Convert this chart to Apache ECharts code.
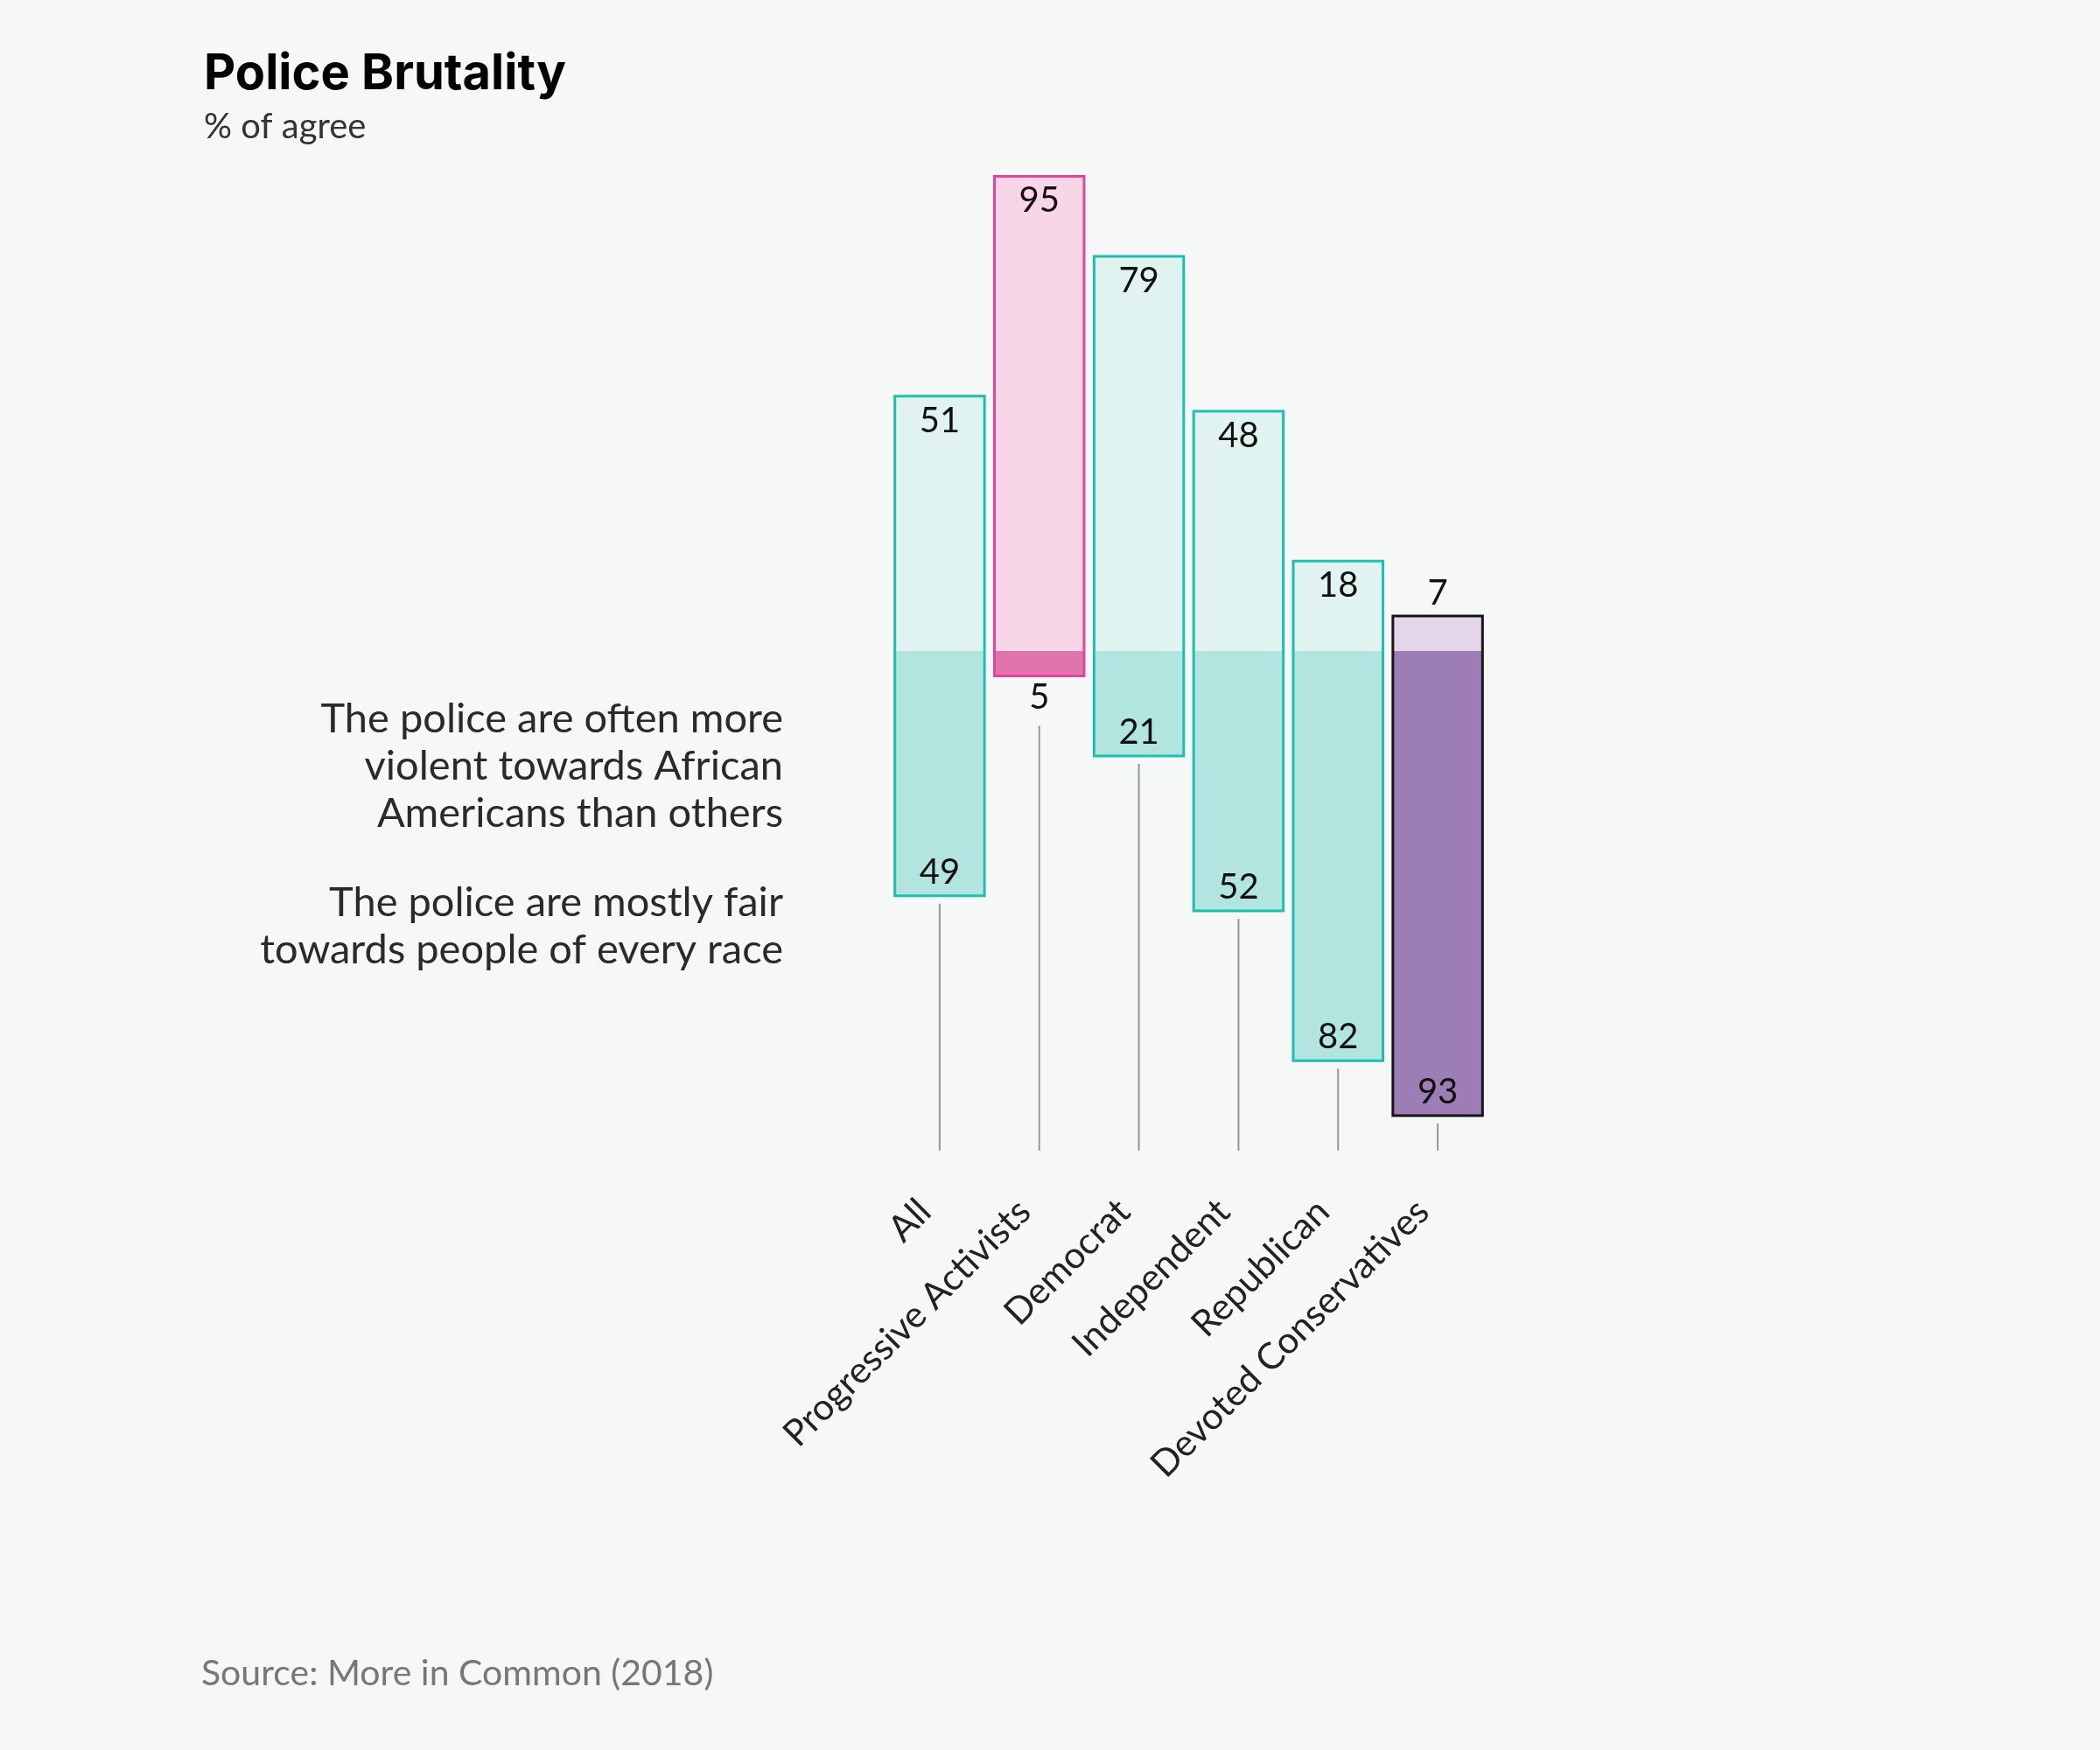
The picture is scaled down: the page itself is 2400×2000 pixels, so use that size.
<!DOCTYPE html>
<html>
<head>
<meta charset="utf-8">
<title>Police Brutality</title>
<script src="https://cdn.jsdelivr.net/npm/echarts@6.0.0/dist/echarts.min.js"></script>
<style>
  html, body { margin: 0; padding: 0; background: #f6f7f7; }
  #main { width: 2400px; height: 2000px; }
</style>
</head>
<body>
<div id="main"></div>
<script type="text/javascript">
// data (% of respondents)
var categories = ['All', 'Progressive Activists', 'Democrat', 'Independent', 'Republican', 'Devoted Conservatives'];
var violentShare = [51, 95, 79, 48, 18, 7];   // "often more violent towards African Americans"
var fairShare = [49, 5, 21, 52, 82, 93];      // "mostly fair towards people of every race"

// colours per group
var teal = { edge: '#1dbfae', upper: '#e0f3f0', lower: '#b3e5e0' };
var looks = {
    'Progressive Activists': { edge: '#e0479b', upper: '#f9d6e7', lower: '#e074ad' },
    'Devoted Conservatives': { edge: '#151515', upper: '#e4d5e8', lower: '#9d7db5' }
};

var font = 'Lato';

function renderBar(params, api) {
    var i = api.value(0);
    var up = api.value(1);
    var down = api.value(2);
    var base = api.coord([i, 0]);
    var top = api.coord([i, up]);
    var bot = api.coord([i, -down]);
    var floor = api.coord([i, -100]);
    var w = api.size([1, 0])[0] * 0.9;
    var x = base[0] - w / 2;
    var look = looks[categories[i]] || teal;
    var kids = [];

    kids.push({ type: 'rect', shape: { x: x, y: top[1], width: w, height: base[1] - top[1] },
        style: { fill: look.upper } });
    kids.push({ type: 'rect', shape: { x: x, y: base[1], width: w, height: bot[1] - base[1] },
        style: { fill: look.lower } });
    kids.push({ type: 'rect', shape: { x: x, y: top[1], width: w, height: bot[1] - top[1] },
        style: { fill: null, stroke: look.edge, lineWidth: 3 } });

    // numbers: inside the bar, or outside when the piece is too small
    var upOut = up < 10, downOut = down < 10;
    kids.push({ type: 'text', style: {
        text: String(up), x: base[0], y: upOut ? top[1] - 26 : top[1] + 28,
        align: 'center', verticalAlign: 'middle', fill: '#111', font: '40px ' + font } });
    kids.push({ type: 'text', style: {
        text: String(down), x: base[0], y: downOut ? bot[1] + 25 : bot[1] - 27,
        align: 'center', verticalAlign: 'middle', fill: '#111', font: '40px ' + font } });

    // leader line down to the axis
    var start = downOut ? bot[1] + 57 : bot[1] + 9;
    kids.push({ type: 'line', shape: { x1: base[0], y1: start, x2: base[0], y2: floor[1] },
        style: { stroke: '#969696', lineWidth: 2 } });

    return { type: 'group', children: kids };
}

var rows = categories.map(function (c, i) { return [i, violentShare[i], fairShare[i]]; });

var myChart = echarts.init(document.getElementById('main'));
var option = {
    backgroundColor: '#f6f7f7',
    animation: false,
    title: {
        text: 'Police Brutality',
        subtext: '% of agree',
        left: 228,
        top: 52,
        itemGap: 12,
        textStyle: { fontFamily: 'Inter', fontWeight: 700, fontSize: 56, color: '#000' },
        subtextStyle: { fontFamily: font, fontSize: 40, color: '#333' }
    },
    grid: { left: 1017, right: 700, top: 173, bottom: 685 },
    xAxis: {
        type: 'category',
        data: categories,
        axisLine: { show: false },
        axisTick: { show: false },
        axisLabel: { rotate: 45, margin: 46, padding: [0, 24, 0, 0],
            fontFamily: font, fontSize: 42, color: '#222' }
    },
    yAxis: { type: 'value', min: -100, max: 100, show: false },
    series: [{
        type: 'custom',
        renderItem: renderBar,
        encode: { x: 0, y: [1, 2] },
        data: rows
    }],
    graphic: [
        { type: 'text', x: 895, y: 795, style: {
            text: 'The police are often more\nviolent towards African\nAmericans than others',
            align: 'right', verticalAlign: 'top', lineHeight: 54,
            font: '47px ' + font, fill: '#2a2a2a' } },
        { type: 'text', x: 895, y: 1005, style: {
            text: 'The police are mostly fair\ntowards people of every race',
            align: 'right', verticalAlign: 'top', lineHeight: 54,
            font: '47px ' + font, fill: '#2a2a2a' } },
        { type: 'text', x: 230, y: 1913, style: {
            text: 'Source: More in Common (2018)',
            align: 'left', verticalAlign: 'middle',
            font: '41px ' + font, fill: '#777' } }
    ]
};
myChart.setOption(option);
</script>
</body>
</html>
